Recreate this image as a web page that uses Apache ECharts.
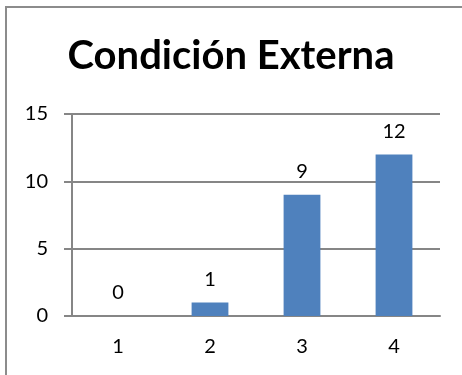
<!DOCTYPE html>
<html>
<head>
<meta charset="utf-8">
<script src="https://cdn.jsdelivr.net/npm/echarts@6/dist/echarts.min.js"></script>
<style>
  html, body { margin: 0; padding: 0; background: #fff; }
  #chart { width: 462px; height: 375px; }
</style>
</head>
<body>
<div id="chart"></div>
<script>
// datos del gráfico
var titulo = 'Condición Externa';
var categorias = ['1', '2', '3', '4'];
var valores = [0, 1, 9, 12];
var ejeY = { min: 0, max: 15, interval: 5 };

var gris = '#868686';
var fuente = 'Lato';

var chart = echarts.init(document.getElementById('chart'), null, { renderer: 'canvas' });

var option = {
  backgroundColor: '#ffffff',
  animation: false,
  title: {
    text: titulo,
    left: 'center',
    top: 31,
    textStyle: { fontFamily: fuente, fontWeight: 'bold', fontSize: 40, color: '#000' }
  },
  grid: { left: 72, right: 22, top: 114, bottom: 59, containLabel: false },
  xAxis: {
    type: 'category',
    data: categorias,
    axisLine: { lineStyle: { color: gris, width: 2 } },
    axisTick: { length: 7, lineStyle: { color: gris, width: 2 } },
    axisLabel: { fontFamily: fuente, fontSize: 20, color: '#000', margin: 21 }
  },
  yAxis: {
    type: 'value',
    min: ejeY.min,
    max: ejeY.max,
    interval: ejeY.interval,
    axisLine: { show: true, lineStyle: { color: gris, width: 2 } },
    axisTick: { show: true, length: 8, lineStyle: { color: gris, width: 2 } },
    splitLine: { lineStyle: { color: gris, width: 2 } },
    axisLabel: { fontFamily: fuente, fontSize: 20, color: '#000', margin: 24 }
  },
  series: [{
    type: 'bar',
    data: valores,
    barWidth: '40%',
    itemStyle: { color: '#4F81BD' },
    label: {
      show: true,
      position: 'top',
      distance: 13,
      fontFamily: fuente,
      fontSize: 20,
      color: '#000'
    }
  }],
  graphic: [{
    type: 'rect',
    shape: { x: 6, y: 7, width: 480, height: 400 },
    style: { fill: null, stroke: '#8c8c8c', lineWidth: 2 },
    silent: true
  }]
};

chart.setOption(option);
</script>
</body>
</html>
